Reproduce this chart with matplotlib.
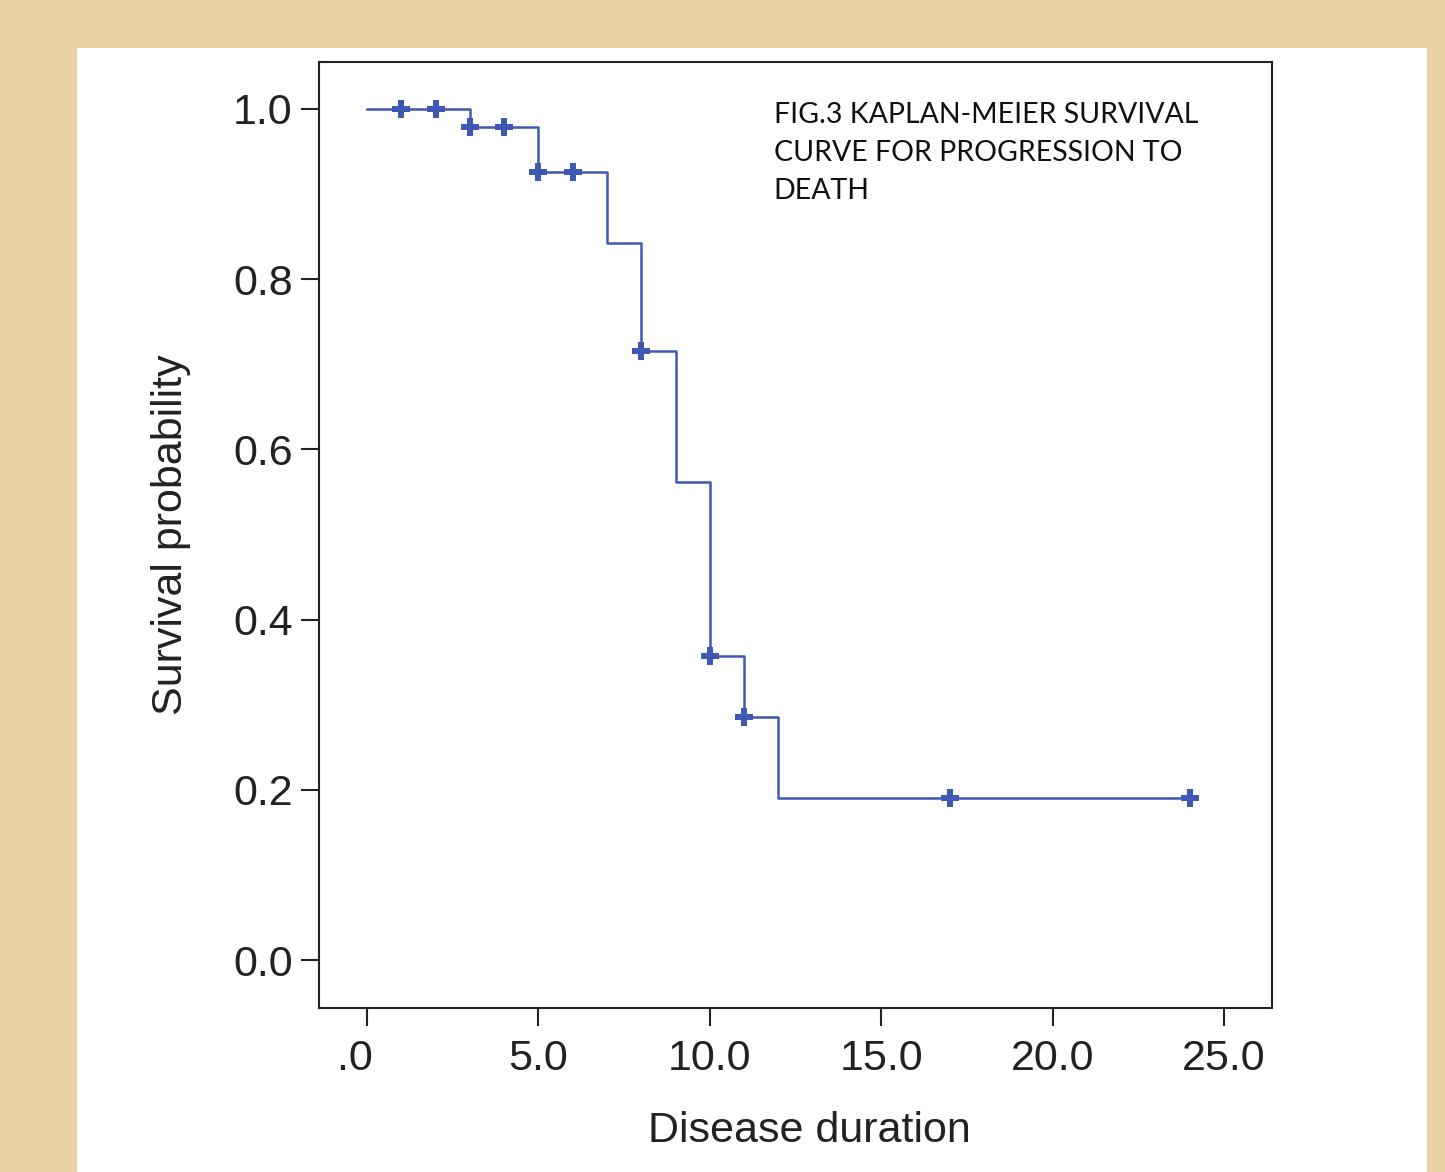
import numpy as np
import matplotlib
matplotlib.use("Agg")
import matplotlib.pyplot as plt
from matplotlib.patches import Rectangle

# Kaplan-Meier step estimates
event_times = [0, 3, 5, 7, 8, 9, 10, 11, 12, 24]
survival = [1.0, 0.979, 0.926, 0.8425, 0.7156, 0.5617, 0.357, 0.2855, 0.190, 0.190]

# censored observations
censor_times = [1, 2, 3, 4, 5, 6, 8, 10, 11, 17, 24]

x_ticks = [0, 5, 10, 15, 20, 25]
x_ticklabels = [".0  ", "5.0", "10.0", "15.0", "20.0", "25.0"]
y_ticks = [0.0, 0.2, 0.4, 0.6, 0.8, 1.0]
y_ticklabels = ["0.0", "0.2", "0.4", "0.6", "0.8", "1.0"]

title_text = "FIG.3 KAPLAN-MEIER SURVIVAL\nCURVE FOR PROGRESSION TO\nDEATH"

BLUE = "#3F58B3"

# survival value at each censor time (right-continuous step lookup)
idx = np.searchsorted(event_times, censor_times, side="right") - 1
censor_surv = np.array(survival)[idx]

fig = plt.figure(figsize=(14.45, 11.72), dpi=100)
fig.patch.set_facecolor("#E8D2A3")
fig.patches.append(Rectangle((0.0533, 0.0), 0.9342, 0.959,
                             transform=fig.transFigure, facecolor="white",
                             edgecolor="none", zorder=-1))

ax = fig.add_axes([0.2208, 0.1399, 0.6595, 0.8072])
ax.set_facecolor("white")

ax.step(event_times, survival, where="post", color=BLUE, linewidth=1.8)
ax.plot(censor_times, censor_surv, linestyle="none", marker="P",
        markersize=13, color=BLUE, markeredgewidth=0)

ax.set_xlim(-1.4, 26.4)
ax.set_ylim(-0.0564, 1.055)

ax.set_xticks(x_ticks)
ax.set_xticklabels(x_ticklabels)
ax.set_yticks(y_ticks)
ax.set_yticklabels(y_ticklabels)

for s in ax.spines.values():
    s.set_linewidth(1.5)
    s.set_color("#222222")

ax.tick_params(direction="out", length=13, width=1.5, labelsize=31,
               colors="#222222")
ax.tick_params(axis="y", pad=6)
ax.tick_params(axis="x", pad=9)
for lbl in ax.get_xticklabels() + ax.get_yticklabels():
    lbl.set_family("Liberation Sans")

ax.set_xlabel("Disease duration", fontsize=31, family="Liberation Sans",
              labelpad=23, color="#222222")
ax.xaxis.label.set_x(0.515)
ax.set_ylabel("Survival probability", fontsize=31, family="Liberation Sans",
              labelpad=30, color="#222222")

ax.text(0.477, 0.958, title_text, transform=ax.transAxes, ha="left", va="top",
        fontsize=20.5, family="Lato", linespacing=1.57, color="#111111")

fig.savefig("out.png", dpi=100, facecolor=fig.get_facecolor())
